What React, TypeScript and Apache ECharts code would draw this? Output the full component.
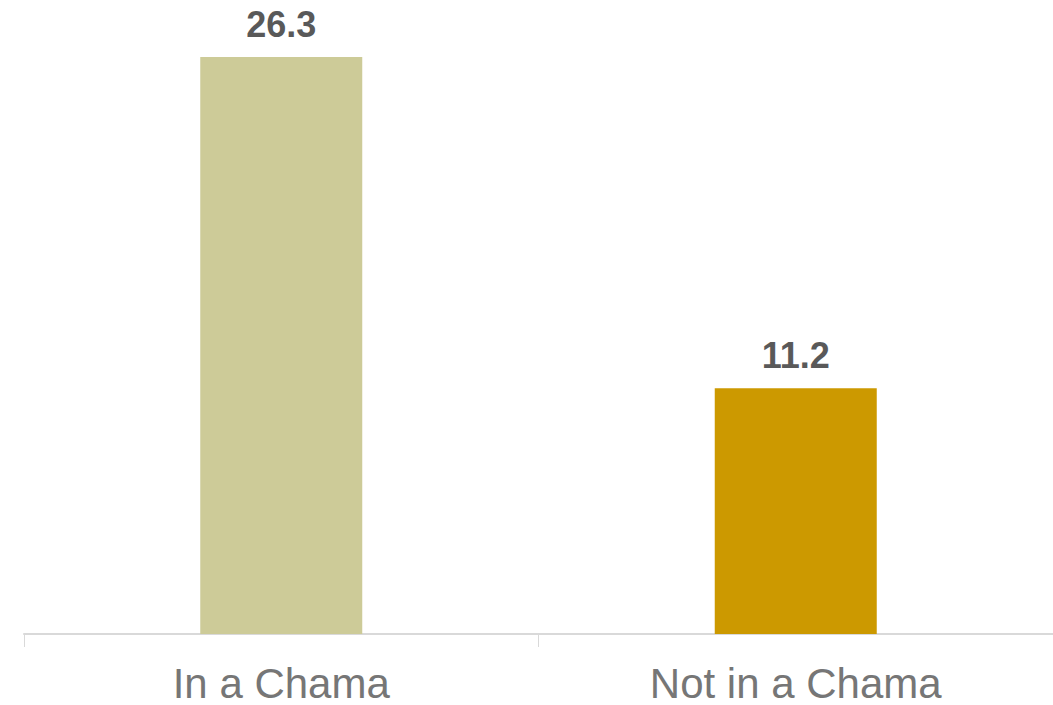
import React, { useEffect, useRef } from "react";
import * as echarts from "echarts";

const categories = ["In a Chama", "Not in a Chama"];
const values = [26.3, 11.2];
const barColors = ["#CDCB98", "#CC9900"];

export default function App() {
  const ref = useRef<HTMLDivElement>(null);
  useEffect(() => {
    if (!ref.current) return;
    const chart = echarts.init(ref.current, undefined, { renderer: "svg" });
    chart.setOption({
      animation: false,
      grid: { left: 24, right: 0, top: 57, bottom: 71, containLabel: false },
      xAxis: {
        type: "category",
        data: categories,
        axisLine: { show: true, lineStyle: { color: "#D9D9D9", width: 2 } },
        axisTick: { show: true, length: 13, lineStyle: { color: "#D9D9D9", width: 1 } },
        axisLabel: {
          color: "#767676",
          fontSize: 42,
          fontFamily: "Liberation Sans, Arial, sans-serif",
          margin: 28,
        },
      },
      yAxis: {
        type: "value",
        min: 0,
        max: 26.3,
        show: false,
        splitLine: { show: false },
      },
      series: [
        {
          type: "bar",
          barWidth: 162,
          data: values.map((v, i) => ({ value: v, itemStyle: { color: barColors[i] } })),
          label: {
            show: true,
            position: "top",
            distance: 15,
            color: "#595959",
            fontSize: 36,
            fontWeight: "bold",
            fontFamily: "Liberation Sans, Arial, sans-serif",
            formatter: (p: any) => p.value.toFixed(1),
          },
        },
      ],
    });
    return () => chart.dispose();
  }, []);
  return (
    <div
      ref={ref}
      style={{ position: "absolute", left: 0, top: 0, width: 1053, height: 705, background: "#fff" }}
    />
  );
}
